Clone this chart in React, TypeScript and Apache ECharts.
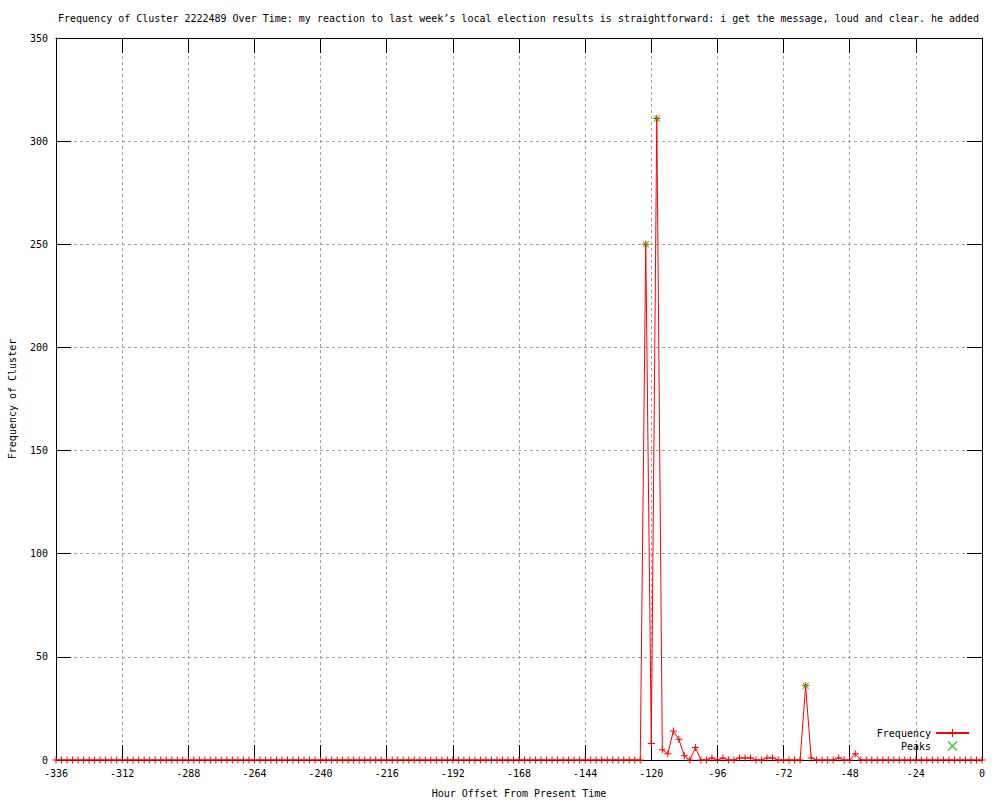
import React, { useEffect, useRef } from "react";
import * as echarts from "echarts";

const titleText =
  "Frequency of Cluster 2222489 Over Time: my reaction to last week\u2019s local election results is straightforward: i get the message, loud and clear. he added";

// hours from -336 to 0, every 2 hours
const hourStart = -336;
const hourStep = 2;
const frequency: number[] = [
  0, 0, 0, 0, 0, 0, 0, 0, 0, 0, 0, 0, // -336 .. -314
  0, 0, 0, 0, 0, 0, 0, 0, 0, 0, 0, 0, // -312 .. -290
  0, 0, 0, 0, 0, 0, 0, 0, 0, 0, 0, 0, // -288 .. -266
  0, 0, 0, 0, 0, 0, 0, 0, 0, 0, 0, 0, // -264 .. -242
  0, 0, 0, 0, 0, 0, 0, 0, 0, 0, 0, 0, // -240 .. -218
  0, 0, 0, 0, 0, 0, 0, 0, 0, 0, 0, 0, // -216 .. -194
  0, 0, 0, 0, 0, 0, 0, 0, 0, 0, 0, 0, // -192 .. -170
  0, 0, 0, 0, 0, 0, 0, 0, 0, 0, 0, 0, // -168 .. -146
  0, 0, 0, 0, 0, 0, 0, 0, 0, 0, 0, 250, // -144 .. -122
  8, 311, 5, 3, 14, 10, 2, 0, 6, 0, 0, 1, // -120 .. -98
  0, 1, 0, 0, 1, 1, 1, 0, 0, 1, 1, 0, // -96 .. -74
  0, 0, 0, 0, 36, 1, 0, 0, 0, 0, 1, 0, // -72 .. -50
  0, 3, 0, 0, 0, 0, 0, 0, 0, 0, 0, 0, // -48 .. -26
  0, 0, 0, 0, 0, 0, 0, 0, 0, 0, 0, 0, // -24 .. -2
  0, // 0
];

const peakHours = [-122, -118, -64];
const peakValues = [250, 311, 36];

const xTickInterval = 24;
const xMin = -336;
const xMax = 0;
const yMin = 0;
const yMax = 350;
const yTickInterval = 50;

const PLUS =
  "path://M0,3L3,3L3,0L4,0L4,3L7,3L7,4L4,4L4,7L3,7L3,4L0,4Z";
const CROSS =
  "path://M0,0.7L0.7,0L3.5,2.8L6.3,0L7,0.7L4.2,3.5L7,6.3L6.3,7L3.5,4.2L0.7,7L0,6.3L2.8,3.5Z";

const FONT = "DejaVu Sans Mono";

export default function App() {
  const ref = useRef<HTMLDivElement>(null);
  useEffect(() => {
    if (!ref.current) return;
    const chart = echarts.init(ref.current, undefined, { renderer: "svg" });
    const freqData = frequency.map((v, i) => [hourStart + i * hourStep, v]);
    const peakData = peakHours.map((h, i) => [h, peakValues[i]]);
    const tickStyle = { show: true, inside: true, length: 15, lineStyle: { color: "#000", width: 1 } };
    const axisLine = { show: true, onZero: false, lineStyle: { color: "#000", width: 1 } };
    const labelStyle = { color: "#000", fontFamily: FONT, fontSize: 10 };
    chart.setOption({
      animation: false,
      backgroundColor: "#fff",
      title: {
        text: titleText,
        left: 58,
        top: 13,
        padding: 0,
        textStyle: { fontFamily: FONT, fontSize: 10, fontWeight: "normal", color: "#000" },
      },
      legend: {
        orient: "vertical",
        right: 30,
        top: 728,
        padding: 0,
        itemGap: 3,
        itemWidth: 33,
        itemHeight: 10,
        align: "right",
        textStyle: { fontFamily: FONT, fontSize: 10, color: "#000" },
        data: [
          { name: "Frequency" },
          { name: "Peaks", icon: CROSS },
        ],
      },
      grid: {
        left: 56,
        right: 18,
        top: 38,
        bottom: 40,
        containLabel: false,
        outerBoundsMode: "none",
      },
      xAxis: [
        {
          type: "value",
          min: xMin,
          max: xMax,
          interval: xTickInterval,
          position: "bottom",
          name: "Hour Offset From Present Time",
          nameLocation: "middle",
          nameGap: 28,
          nameTextStyle: { fontFamily: FONT, fontSize: 10, color: "#000" },
          axisLine,
          axisTick: tickStyle,
          axisLabel: { ...labelStyle, margin: 8, showMinLabel: true, showMaxLabel: true },
          splitLine: { show: true, lineStyle: { color: "#a0a0a0", type: [3, 3], width: 1 } },
        },
        {
          type: "value",
          min: xMin,
          max: xMax,
          interval: xTickInterval,
          position: "top",
          axisLine,
          axisTick: tickStyle,
          axisLabel: { show: false },
          splitLine: { show: false },
        },
      ],
      yAxis: [
        {
          type: "value",
          min: yMin,
          max: yMax,
          interval: yTickInterval,
          position: "left",
          name: "Frequency of Cluster",
          nameLocation: "middle",
          nameGap: 39,
          nameRotate: 90,
          nameTextStyle: { fontFamily: FONT, fontSize: 10, color: "#000" },
          axisLine,
          axisTick: tickStyle,
          axisLabel: { ...labelStyle, margin: 8 },
          splitLine: { show: true, lineStyle: { color: "#a0a0a0", type: [3, 3], width: 1 } },
        },
        {
          type: "value",
          min: yMin,
          max: yMax,
          interval: yTickInterval,
          position: "right",
          axisLine,
          axisTick: tickStyle,
          axisLabel: { show: false },
          splitLine: { show: false },
        },
      ],
      series: [
        {
          name: "Frequency",
          type: "line",
          xAxisIndex: 0,
          yAxisIndex: 0,
          data: freqData,
          showSymbol: true,
          showAllSymbol: true,
          symbol: PLUS,
          symbolSize: 7,
          lineStyle: { color: "#ff0000", width: 1 },
          itemStyle: { color: "#ff0000" },
          z: 3,
        },
        {
          name: "Peaks",
          type: "scatter",
          xAxisIndex: 0,
          yAxisIndex: 0,
          data: peakData,
          symbol: CROSS,
          symbolSize: 7,
          itemStyle: { color: "#00c000" },
          z: 4,
        },
      ],
    });
    return () => chart.dispose();
  }, []);
  return (
    <div
      ref={ref}
      style={{ position: "absolute", left: 0, top: 0, width: 1000, height: 800, background: "#fff" }}
    />
  );
}
